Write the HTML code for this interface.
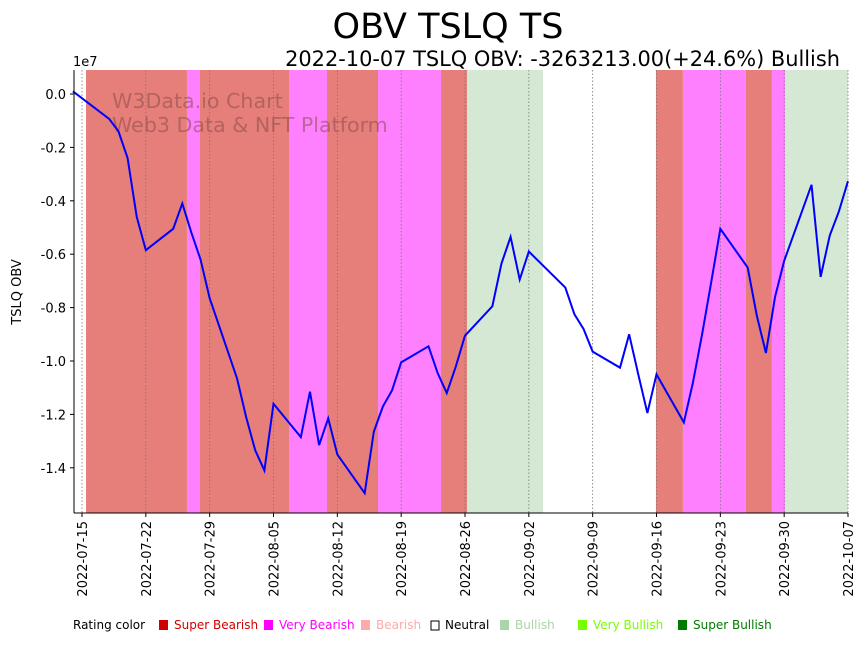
<!DOCTYPE html>
<html><head><meta charset="utf-8"><style>
body{margin:0;background:#fff;font-family:"DejaVu Sans","Liberation Sans",sans-serif;}
svg text{font-family:"DejaVu Sans","Liberation Sans",sans-serif;}
</style></head><body>
<svg id="chart" width="864" height="641" xmlns="http://www.w3.org/2000/svg">
<text x="448" y="38" font-size="35" text-anchor="middle">OBV TSLQ TS</text>
<text x="840" y="66" font-size="20.9" text-anchor="end">2022-10-07 TSLQ OBV: -3263213.00(+24.6%) Bullish</text>
<g id="bands"></g>
<g id="grid"></g>
<text x="112" y="108" font-size="20.6" fill="#8b4a4a" fill-opacity="0.55">W3Data.io Chart</text>
<text x="112" y="132" font-size="20.6" fill="#8b4a4a" fill-opacity="0.55">Web3 Data &amp; NFT Platform</text>
<g id="line"></g>
<g id="axes"></g>
<text transform="translate(21,292) rotate(-90)" font-size="13" text-anchor="middle">TSLQ OBV</text>
<text x="73" y="66" font-size="13">1e7</text>
<g font-size="12">
<text x="73" y="629">Rating color</text>
<rect x="159" y="620" width="9" height="10" fill="#d10000"/><text x="174" y="629" fill="#d10000">Super Bearish</text>
<rect x="264" y="620" width="9" height="10" fill="#ff00ff"/><text x="279" y="629" fill="#ff00ff">Very Bearish</text>
<rect x="361" y="620" width="9" height="10" fill="#ffaaaa"/><text x="376" y="629" fill="#ffaaaa">Bearish</text>
<rect x="431" y="621" width="8" height="9" fill="none" stroke="#000"/><text x="445" y="629">Neutral</text>
<rect x="500" y="620" width="9" height="10" fill="#a9d5a8"/><text x="515" y="629" fill="#a9d5a8">Bullish</text>
<rect x="578" y="620" width="9" height="10" fill="#77ff00"/><text x="593" y="629" fill="#77ff00">Very Bullish</text>
<rect x="678" y="620" width="9" height="10" fill="#007a00"/><text x="693" y="629" fill="#007a00">Super Bullish</text>
</g>
</svg>
<script>
const dates=["2022-07-14","2022-07-18","2022-07-19","2022-07-20","2022-07-21","2022-07-22","2022-07-25","2022-07-26","2022-07-27","2022-07-28","2022-07-29","2022-08-01","2022-08-02","2022-08-03","2022-08-04","2022-08-05","2022-08-08","2022-08-09","2022-08-10","2022-08-11","2022-08-12","2022-08-15","2022-08-16","2022-08-17","2022-08-18","2022-08-19","2022-08-22","2022-08-23","2022-08-24","2022-08-25","2022-08-26","2022-08-29","2022-08-30","2022-08-31","2022-09-01","2022-09-02","2022-09-06","2022-09-07","2022-09-08","2022-09-09","2022-09-12","2022-09-13","2022-09-14","2022-09-15","2022-09-16","2022-09-19","2022-09-20","2022-09-21","2022-09-22","2022-09-23","2022-09-26","2022-09-27","2022-09-28","2022-09-29","2022-09-30","2022-10-03","2022-10-04","2022-10-05","2022-10-06","2022-10-07"];
const obv=[0.01,-0.094,-0.14,-0.24,-0.46,-0.585,-0.505,-0.41,-0.52,-0.62,-0.765,-1.065,-1.21,-1.335,-1.41,-1.16,-1.285,-1.115,-1.315,-1.215,-1.35,-1.495,-1.265,-1.17,-1.11,-1.005,-0.945,-1.045,-1.12,-1.02,-0.905,-0.795,-0.635,-0.535,-0.695,-0.59,-0.725,-0.825,-0.88,-0.965,-1.025,-0.9,-1.05,-1.195,-1.05,-1.23,-1.08,-0.9,-0.705,-0.505,-0.65,-0.83,-0.97,-0.76,-0.625,-0.34,-0.685,-0.53,-0.44,-0.326];
// band edges in days after 2022-07-15
const bandStart=[0.44,11.51,12.94,22.7,26.87,32.46,39.37,42.22,62.94,65.9,72.81,75.66,77.09];
const bandEnd=[11.51,12.94,22.7,26.87,32.46,39.37,42.22,50.55,65.9,72.81,75.66,77.09,84];
const bandRating=["super-bearish","very-bearish","super-bearish","very-bearish","super-bearish","very-bearish","super-bearish","bullish","super-bearish","very-bearish","super-bearish","very-bearish","bullish"];
const xTicks=["2022-07-15","2022-07-22","2022-07-29","2022-08-05","2022-08-12","2022-08-19","2022-08-26","2022-09-02","2022-09-09","2022-09-16","2022-09-23","2022-09-30","2022-10-07"];
const yTicks=[0,-0.2,-0.4,-0.6,-0.8,-1.0,-1.2,-1.4];
const bandColor={"super-bearish":"#e67f7a","very-bearish":"#ff80ff","bullish":"#d5e8d4"};
const NS="http://www.w3.org/2000/svg";
const L=74,R=848,T=70,B=513;
const base=Date.UTC(2022,6,15);
function day(s){const p=s.split("-");return (Date.UTC(+p[0],p[1]-1,+p[2])-base)/86400000;}
function XD(d){return 82+d*9.119;}
function X(s){return XD(day(s));}
function Y(v){return 94-v*267;}
function mk(tag,attrs,parent){const e=document.createElementNS(NS,tag);for(const k in attrs)e.setAttribute(k,attrs[k]);parent.appendChild(e);return e;}
const gB=document.getElementById("bands"),gG=document.getElementById("grid"),gL=document.getElementById("line"),gA=document.getElementById("axes");
for(let i=0;i<bandStart.length;i++){
 const x0=XD(bandStart[i]),x1=Math.min(R,XD(bandEnd[i]));
 const r=mk("rect",{x:x0,y:T,width:x1-x0,height:B-T,fill:bandColor[bandRating[i]]},gB);
 
 
}
xTicks.forEach(t=>{
 const x=X(t);
 const g=mk("line",{x1:x,x2:x,y1:T,y2:B,stroke:"#777","stroke-width":0.8,"stroke-dasharray":"1.5,2"},gG);
 
 
 mk("line",{x1:x,x2:x,y1:B,y2:B+4,stroke:"#000"},gA);
 const tx=mk("text",{transform:`translate(${x+5},${B+8}) rotate(-90)`,"font-size":13,"text-anchor":"end"},gA);
 tx.textContent=t;
 
 
});
yTicks.forEach(v=>{
 const y=Y(v);
 mk("line",{x1:L-4,x2:L,y1:y,y2:y,stroke:"#000"},gA);
 const tx=mk("text",{x:L-8,y:y+5,"font-size":13,"text-anchor":"end"},gA);
 tx.textContent=v.toFixed(1);
 
 
});
mk("line",{x1:L,x2:L,y1:T,y2:B,stroke:"#000"},gA);
mk("line",{x1:L,x2:R,y1:B,y2:B,stroke:"#000"},gA);
const pts=dates.map((d,i)=>X(d)+","+Y(obv[i])).join(" ");
const pl=mk("polyline",{points:pts,fill:"none",stroke:"#0000ff","stroke-width":2},gL);


</script>
</body></html>
